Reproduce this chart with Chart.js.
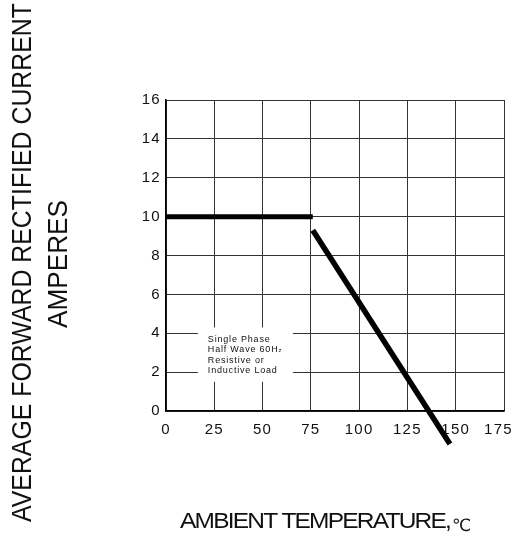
<!DOCTYPE html>
<html>
<head>
<meta charset="utf-8">
<script src="https://cdn.jsdelivr.net/npm/chart.js@4.4.1/dist/chart.umd.min.js"></script>
<style>
  html, body { margin: 0; padding: 0; background: #fff; }
  #wrap { width: 513px; height: 537px; position: relative; }
</style>
</head>
<body>
<div id="wrap"><canvas id="derating"></canvas></div>
<script>
// derating curve
const tempTicks = [0, 25, 50, 75, 100, 125, 150, 175];
const currentTicks = [0, 2, 4, 6, 8, 10, 12, 14, 16];
const flatTemp = [0, 76];
const flatCurrent = [10, 10];
const slopeTemp = [76, 147];
const slopeCurrent = [9.3, -1.7];
const noteLines = ['Single Phase', 'Half Wave 60H', 'Resistive or', 'Inductive Load'];
const yTitle = ['AVERAGE FORWARD RECTIFIED CURRENT', 'AMPERES'];
const xTitle = 'AMBIENT TEMPERATURE,';
const xUnit = '\u2103';

const FONT = '"Liberation Sans", Arial, sans-serif';

function toPoints(xs, ys) {
    return xs.map((x, i) => ({ x: x, y: ys[i] }));
}

// draw text squeezed/stretched to a given width
function fitText(ctx, text, x, y, width, rot, align) {
    const w = ctx.measureText(text).width;
    ctx.save();
    ctx.translate(x, y);
    ctx.rotate(rot);
    ctx.scale(width / w, 1);
    ctx.textAlign = align;
    ctx.fillText(text, 0, 0);
    ctx.restore();
}

// letter spacing for tick labels
const spacingPlugin = {
    id: 'spacing',
    beforeUpdate(chart) { chart.ctx.letterSpacing = '1.3px'; },
    beforeDraw(chart) { chart.ctx.letterSpacing = '1.3px'; }
};

// note box inside the plot
const notePlugin = {
    id: 'note',
    beforeDatasetsDraw(chart) {
        const ctx = chart.ctx;
        const xs = chart.scales.x, ys = chart.scales.y;
        const left = xs.getPixelForValue(16.5), right = xs.getPixelForValue(65.7);
        const top = ys.getPixelForValue(4.3), bottom = ys.getPixelForValue(1.5);
        ctx.save();
        ctx.fillStyle = '#fff';
        ctx.fillRect(left, top, right - left, bottom - top);
        ctx.fillStyle = '#111';
        ctx.letterSpacing = '0.8px';
        ctx.font = '9px ' + FONT;
        ctx.textBaseline = 'middle';
        ctx.textAlign = 'left';
        noteLines.forEach((t, i) => {
            const y = top + 12 + i * 10.3;
            ctx.fillText(t, left + 10, y);
            if (i === 1) {
                const w = ctx.measureText(t).width;
                ctx.font = '6px ' + FONT;
                ctx.fillText('z', left + 10 + w, y + 1);
                ctx.font = '9px ' + FONT;
            }
        });
        ctx.restore();
    }
};

// axis titles
const titlePlugin = {
    id: 'titles',
    afterDraw(chart) {
        const ctx = chart.ctx;
        ctx.save();
        ctx.letterSpacing = '0px';
        ctx.fillStyle = '#111';
        ctx.textBaseline = 'alphabetic';
        ctx.font = '28px ' + FONT;
        fitText(ctx, yTitle[0], 30.5, 262.5, 519, -Math.PI / 2, 'center');
        fitText(ctx, yTitle[1], 66.5, 264, 128, -Math.PI / 2, 'center');
        // x title is set tight in the source
        ctx.letterSpacing = '-1.6px';
        ctx.font = '22px ' + FONT;
        fitText(ctx, xTitle, 180, 528, 270, 0, 'left');
        ctx.letterSpacing = '0px';
        ctx.font = '17px "DejaVu Sans", sans-serif';
        ctx.textAlign = 'left';
        ctx.fillText(xUnit, 452, 531);
        ctx.restore();
    }
};

new Chart(document.getElementById('derating'), {
    type: 'line',
    data: {
        datasets: [
            {
                data: toPoints(flatTemp, flatCurrent),
                borderColor: '#000',
                borderWidth: 5,
                pointRadius: 0,
                fill: false,
                clip: false
            },
            {
                data: toPoints(slopeTemp, slopeCurrent),
                borderColor: '#000',
                borderWidth: 5.5,
                pointRadius: 0,
                fill: false,
                clip: false
            }
        ]
    },
    options: {
        responsive: true,
        maintainAspectRatio: false,
        animation: false,
        layout: { padding: { left: 0, right: 9, top: 100, bottom: 0 } },
        plugins: {
            legend: { display: false },
            tooltip: { enabled: false }
        },
        scales: {
            x: {
                type: 'linear',
                min: 0,
                max: 175,
                afterBuildTicks: s => { s.ticks = tempTicks.map(v => ({ value: v })); },
                afterFit: s => { s.height = 126; s.paddingLeft = 0; s.paddingRight = 0; },
                grid: { color: '#333', lineWidth: 1, drawTicks: false },
                border: { color: '#000', width: 1.5 },
                ticks: {
                    color: '#111',
                    padding: 10,
                    maxRotation: 0,
                    font: { family: FONT, size: 15 },
                    callback: v => (v === 175 ? v + '  ' : String(v))
                }
            },
            y: {
                type: 'linear',
                min: 0,
                max: 16,
                afterBuildTicks: s => { s.ticks = currentTicks.map(v => ({ value: v })); },
                afterFit: s => { s.width = 166; },
                grid: { color: '#333', lineWidth: 1, drawTicks: false },
                border: { color: '#000', width: 1.5 },
                ticks: {
                    color: '#111',
                    padding: 5,
                    font: { family: FONT, size: 15 }
                }
            }
        }
    },
    plugins: [spacingPlugin, notePlugin, titlePlugin]
});
</script>
</body>
</html>
